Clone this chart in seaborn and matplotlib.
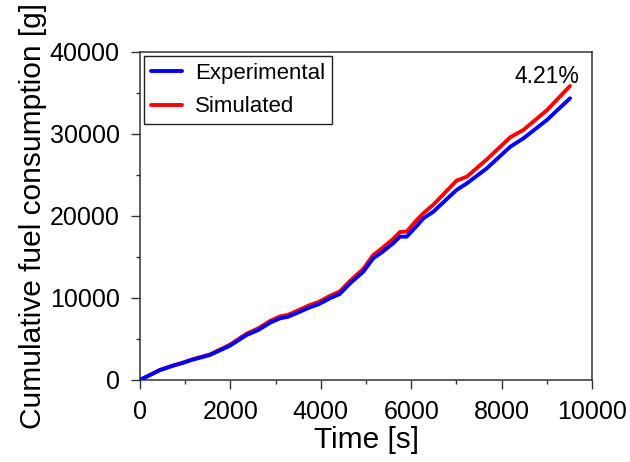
import matplotlib
matplotlib.use("Agg")
import matplotlib.pyplot as plt
from matplotlib.ticker import MultipleLocator
import seaborn as sns
import pandas as pd

time_s = [0, 220, 440, 740, 960, 1140, 1550, 1990, 2360, 2620, 2880, 3100, 3280, 3540,
          3760, 3950, 4200, 4420, 4650, 4940, 5160, 5350, 5600, 5750, 5900, 6120, 6270,
          6490, 7000, 7230, 7670, 8190, 8480, 9000, 9510]
experimental = [0, 600, 1200, 1750, 2100, 2440, 3050, 4180, 5490, 6100, 6990, 7520, 7720,
                8330, 8860, 9230, 9960, 10490, 11790, 13210, 14840, 15570, 16670, 17480,
                17480, 18780, 19720, 20530, 23170, 23980, 25810, 28450, 29470, 31710, 34350]
simulated = [0, 600, 1220, 1780, 2130, 2480, 3120, 4300, 5650, 6300, 7200, 7750, 7950,
             8600, 9150, 9500, 10250, 10800, 12100, 13550, 15250, 16050, 17200, 18050,
             18100, 19500, 20350, 21380, 24300, 24800, 26900, 29600, 30500, 32900, 35850]
series_names = ["Experimental", "Simulated"]
annotation_text = "4.21%"

sns.set_style("ticks")
plt.rcParams['font.family'] = ['Liberation Sans', 'DejaVu Sans']
plt.rcParams['text.color'] = 'black'
plt.rcParams['axes.labelcolor'] = 'black'

df_exp = pd.DataFrame({"t": time_s, "v": experimental})
df_sim = pd.DataFrame({"t": time_s, "v": simulated})

fig = plt.figure(figsize=(6.3, 4.62), dpi=100)
ax = fig.add_axes([0.222, 0.1775, 0.718, 0.71])

sns.lineplot(data=df_exp, x="t", y="v", ax=ax, color="#0000FF", lw=2.8,
             label=series_names[0], zorder=3)
sns.lineplot(data=df_sim, x="t", y="v", ax=ax, color="#FF0000", lw=2.8,
             label=series_names[1], zorder=2)

ax.set_xlim(0, 10000)
ax.set_ylim(0, 40000)
ax.xaxis.set_major_locator(MultipleLocator(2000))
ax.xaxis.set_minor_locator(MultipleLocator(1000))
ax.yaxis.set_major_locator(MultipleLocator(10000))
ax.yaxis.set_minor_locator(MultipleLocator(5000))
ax.tick_params(axis='both', which='major', length=6.5, width=1.0, color='#333333',
               labelsize=18, pad=8, direction='out', labelcolor='black')
ax.tick_params(axis='both', which='minor', length=3.2, width=1.0, color='#333333',
               direction='out')
ax.tick_params(top=False, right=False, which='both')
for s in ax.spines.values():
    s.set_visible(True)
    s.set_color('#333333')
    s.set_linewidth(1.1)

ax.set_xlabel("Time [s]", fontsize=21.5, labelpad=1, color='black')
ax.set_ylabel("Cumulative fuel consumption [g]", fontsize=21.5, labelpad=2, color='black')

ax.text(9000, 37000, annotation_text, fontsize=16.5, ha='center', va='center', color='black')

leg = ax.legend(loc='upper left', fontsize=16, frameon=True, fancybox=False,
                edgecolor='#222222', framealpha=1, handlelength=1.4,
                handletextpad=0.6, labelspacing=0.55, borderpad=0.3,
                borderaxespad=0.2)
leg.get_frame().set_linewidth(1.0)
for txt in leg.get_texts():
    txt.set_color('black')

fig.savefig("out.png", dpi=100)
